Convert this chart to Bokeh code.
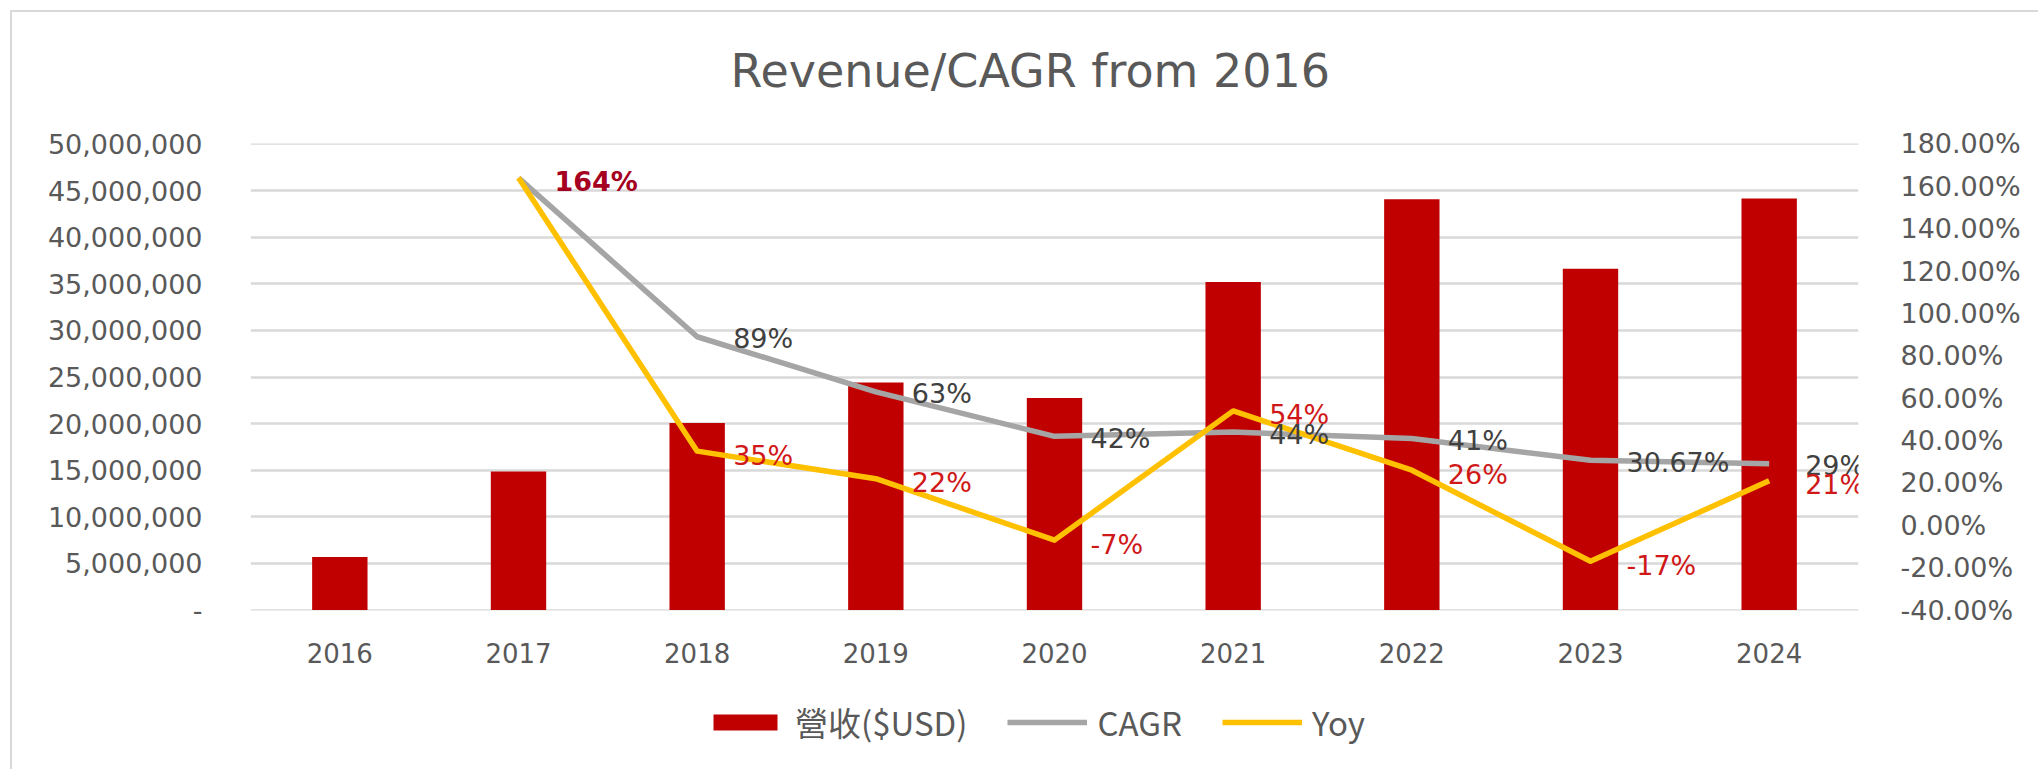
from bokeh.plotting import figure
from bokeh.layouts import column
from bokeh.models import (FactorRange, Range1d, LinearAxis, FixedTicker, PrintfTickFormatter,
                          CustomJSTickFormatter, Legend, LegendItem, ColumnDataSource)
from bokeh.core.properties import value
from bokeh.embed import file_html
from bokeh.resources import INLINE

# ---- data ----
years = ["2016", "2017", "2018", "2019", "2020", "2021", "2022", "2023", "2024"]
revenue = [5680000, 14850000, 20070000, 24400000, 22740000, 35200000, 44060000, 36600000, 44140000]
cagr = [None, 164, 89, 63, 42, 44, 41, 30.67, 29]
yoy = [None, 164, 35, 22, -7, 54, 26, -17, 21]
cagr_labels = ["", "", "89%", "63%", "42%", "44%", "41%", "30.67%", "29%"]
yoy_labels = ["", "164%", "35%", "22%", "-7%", "54%", "26%", "-17%", "21%"]
left_ticks = [0, 5000000, 10000000, 15000000, 20000000, 25000000,
              30000000, 35000000, 40000000, 45000000, 50000000]
right_ticks = [-40, -20, 0, 20, 40, 60, 80, 100, 120, 140, 160, 180]
title_text = "Revenue/CAGR from 2016"
legend_labels = ["營收($USD)", "CAGR", "Yoy"]

# ---- styling ----
RED = "#C00000"
GRAY = "#A5A5A5"
YELLOW = "#FFC000"
TXT = "#595959"
FONT = "DejaVu Sans"
FS = "27px"
LFS = "27px"

W = 2038
H_MAIN, H_LEG = 675, 94
BL, BR = 250, 180

# tiny padding so that the gridlines at both range ends are drawn
L_MIN, L_MAX = left_ticks[0], left_ticks[-1]
R_MIN, R_MAX = right_ticks[0], right_ticks[-1]
pad = 0.001
l_span, r_span = L_MAX - L_MIN, R_MAX - R_MIN

p = figure(width=W, height=H_MAIN, x_range=FactorRange(*years),
           y_range=Range1d(L_MIN - pad * l_span, L_MAX + pad * l_span),
           output_backend="svg", toolbar_location=None,
           min_border_left=BL, min_border_right=BR, min_border_top=141, min_border_bottom=65)
p.extra_y_ranges = {"pct": Range1d(R_MIN - pad * r_span, R_MAX + pad * r_span)}
p.outline_line_color = None
p.background_fill_color = "white"
p.border_fill_alpha = 0

# title
p.title.text = title_text
p.title.align = "left"
p.title.vertical_align = "top"
p.title.offset = 480
p.title.text_font = FONT
p.title.text_font_size = "46px"
p.title.text_font_style = "normal"
p.title.text_color = TXT
p.title.standoff = 87

# grids
p.xgrid.grid_line_color = None
p.ygrid.grid_line_color = "#D9D9D9"
p.ygrid.grid_line_width = 2.5
p.ygrid.ticker = FixedTicker(ticks=left_ticks)

# left axis
ya = p.yaxis[0]
ya.ticker = FixedTicker(ticks=left_ticks)
ya.formatter = CustomJSTickFormatter(code="return tick === 0 ? '-' : Math.round(tick).toLocaleString('en-US');")

# right axis
ra = LinearAxis(y_range_name="pct", ticker=FixedTicker(ticks=right_ticks),
                formatter=PrintfTickFormatter(format="%.2f%%"))
p.add_layout(ra, "right")

for ax in [ya, ra, p.xaxis[0]]:
    ax.axis_line_color = None
    ax.major_tick_line_color = None
    ax.minor_tick_line_color = None
    ax.major_label_text_font = FONT
    ax.major_label_text_font_size = FS
    ax.major_label_text_color = TXT
ya.major_label_standoff = 42
ra.major_label_standoff = 36
p.xaxis[0].major_label_standoff = 26
p.xaxis[0].major_label_text_font_size = "26px"

# bars
src = ColumnDataSource(dict(year=years, revenue=revenue))
p.vbar(x="year", top="revenue", width=0.31, source=src, fill_color=RED, line_color=None)

# lines (skip missing values)
cy = [y for y, v in zip(years, cagr) if v is not None]
cv = [v for v in cagr if v is not None]
yy = [y for y, v in zip(years, yoy) if v is not None]
yv = [v for v in yoy if v is not None]
p.line(cy, cv, y_range_name="pct", line_color=GRAY, line_width=5.5, line_join="round")
p.line(yy, yv, y_range_name="pct", line_color=YELLOW, line_width=5.5, line_join="round")

# data labels
ci = [i for i, t in enumerate(cagr_labels) if t]
p.text(x=[years[i] for i in ci], y=[cagr[i] for i in ci], text=[cagr_labels[i] for i in ci],
       y_range_name="pct", x_offset=36, y_offset=2, text_align="left", text_baseline="middle",
       text_font=value(FONT), text_font_size=LFS, text_color="#404040")
yi = [i for i, t in enumerate(yoy_labels) if t]
ycolors = ["#A50021" if i == 1 else "#D01818" for i in yi]
ystyles = ["bold" if i == 1 else "normal" for i in yi]
p.text(x=[years[i] for i in yi], y=[yoy[i] for i in yi], text=[yoy_labels[i] for i in yi],
       y_range_name="pct", x_offset=36, y_offset=4, text_align="left", text_baseline="middle",
       text_font=value(FONT), text_font_size=LFS, text_color=ycolors, text_font_style=ystyles)

# ---- legend strip (separate figure below the chart, same borders) ----
lf = figure(width=W, height=H_LEG, x_range=Range1d(0, 1), y_range=Range1d(0, 1),
            output_backend="svg", toolbar_location=None,
            x_axis_location=None, y_axis_location=None,
            min_border_left=BL, min_border_right=BR, min_border_top=0, min_border_bottom=0)
lf.grid.grid_line_color = None
lf.outline_line_color = None
lf.border_fill_alpha = 0
lf.background_fill_alpha = 0
# legend-only renderers; their marks lie far outside the visible ranges
r_bar = lf.vbar(x=[-50], top=[-50], bottom=[-60], width=0.3, fill_color=RED, line_color=None)
r_cagr = lf.line(x=[-50, -49], y=[-50, -50], line_color=GRAY, line_width=5.5)
r_yoy = lf.line(x=[-50, -49], y=[-50, -50], line_color=YELLOW, line_width=5.5)
legend = Legend(items=[LegendItem(label=legend_labels[0], renderers=[r_bar]),
                       LegendItem(label=legend_labels[1], renderers=[r_cagr]),
                       LegendItem(label=legend_labels[2], renderers=[r_yoy])],
                orientation="horizontal", location="center_left")
legend.label_text_font = "Noto Sans CJK TC"
legend.label_text_font_size = "33px"
legend.label_text_color = TXT
legend.glyph_width = 80
legend.glyph_height = 20
legend.label_standoff = 10
legend.spacing = 40
legend.margin = 455
legend.padding = 0
legend.border_line_color = None
legend.background_fill_alpha = 0
lf.add_layout(legend)

# chart-area border (top and left edges only, like the cropped reference)
border_styles = {
    "background-color": "white",
    "background-image": "linear-gradient(#D9D9D9, #D9D9D9), linear-gradient(#D9D9D9, #D9D9D9)",
    "background-size": "100% 2px, 2px 100%",
    "background-position": "10px 10px, 10px 10px",
    "background-repeat": "no-repeat",
}
layout = column(p, lf, spacing=0, styles=border_styles)

open("out.html", "w").write(file_html(layout, INLINE))
